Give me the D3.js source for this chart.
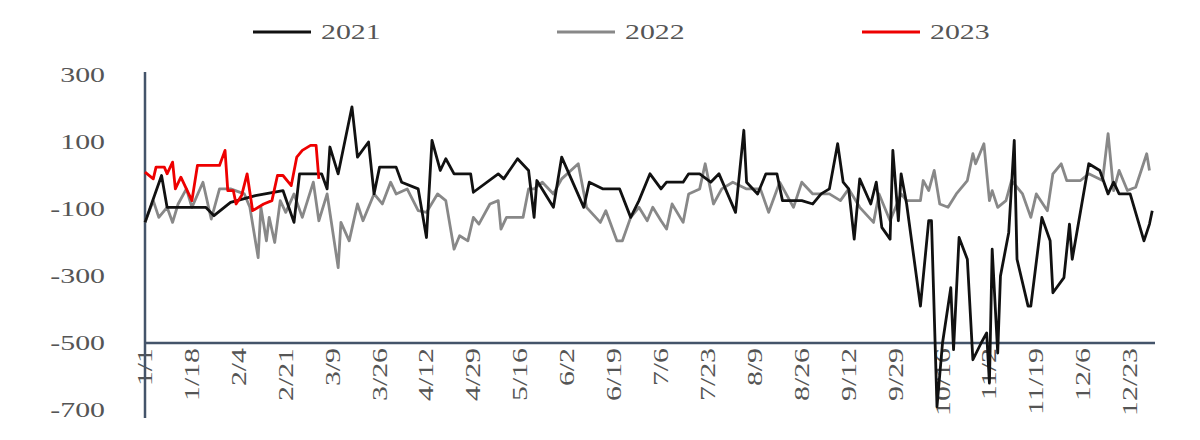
<!DOCTYPE html>
<html><head><meta charset="utf-8">
<script src="https://cdn.jsdelivr.net/npm/d3@7"></script>
<style>body{margin:0;background:#fff}</style>
</head><body><svg id="chart" width="1200" height="440"></svg>
<script>
// [day of year, value]
var s2021 = [[0,-140],[6,0],[8,-95],[22,-95],[25,-120],[31,-80],[40,-60],[50,-45],[54,-140],[56,5],[64,5],[66,-40],[67,85],[70,5],[75,205],[77,55],[81,100],[83,-55],[85,25],[91,25],[93,-20],[99,-40],[102,-185],[104,105],[107,15],[109,50],[112,5],[118,5],[119,-50],[128,5],[130,-10],[135,50],[139,15],[141,-125],[142,-15],[148,-95],[151,55],[159,-95],[161,-20],[166,-40],[172,-40],[176,-125],[179,-75],[183,5],[187,-40],[189,-20],[195,-20],[197,5],[201,5],[205,-20],[208,5],[214,-110],[217,135],[218,-20],[222,-55],[225,5],[229,5],[231,-75],[238,-75],[242,-85],[245,-55],[248,-40],[251,95],[253,-20],[255,-40],[257,-190],[259,-10],[263,-85],[265,-20],[267,-155],[270,-190],[271,75],[273,-135],[274,5],[276,-85],[281,-390],[284,-135],[285,-135],[287,-690],[289,-500],[292,-335],[293,-520],[295,-185],[298,-250],[300,-550],[303,-500],[305,-470],[306,-620],[307,-220],[309,-530],[310,-300],[313,-170],[315,105],[316,-250],[320,-390],[321,-390],[325,-125],[328,-195],[329,-350],[333,-305],[335,-145],[336,-250],[342,35],[346,15],[349,-55],[351,-20],[353,-55],[357,-55],[362,-195],[364,-145],[365,-105]];
var s2022 = [[0,-140],[3,-75],[5,-125],[8,-95],[10,-140],[12,-85],[15,-40],[17,-95],[21,-20],[24,-130],[27,-40],[31,-40],[36,-55],[38,-95],[41,-245],[42,-95],[44,-195],[45,-125],[47,-200],[49,-75],[51,-110],[54,-55],[57,-125],[61,-20],[63,-135],[66,-55],[70,-275],[71,-140],[74,-195],[77,-85],[79,-135],[83,-55],[86,-85],[89,-20],[91,-55],[95,-40],[99,-105],[102,-110],[106,-55],[109,-75],[112,-220],[114,-180],[117,-195],[119,-125],[121,-145],[125,-85],[128,-75],[129,-160],[131,-125],[137,-125],[139,-40],[141,-40],[144,-20],[148,-55],[151,-10],[157,35],[160,-95],[165,-140],[167,-105],[171,-195],[173,-195],[176,-125],[179,-95],[182,-135],[184,-95],[187,-135],[189,-160],[191,-85],[195,-140],[197,-55],[201,-40],[203,35],[206,-85],[209,-40],[213,-20],[218,-40],[223,-40],[226,-110],[230,-20],[235,-95],[238,-20],[242,-55],[248,-55],[252,-75],[255,-40],[259,-95],[264,-140],[266,-55],[270,-135],[274,-55],[276,-75],[281,-75],[282,-15],[284,-45],[286,15],[288,-85],[291,-95],[294,-55],[298,-15],[300,65],[301,35],[304,95],[306,-75],[307,-45],[309,-95],[312,-75],[314,-15],[318,-55],[321,-125],[323,-55],[327,-105],[329,5],[332,35],[334,-15],[339,-15],[342,5],[347,-15],[349,125],[351,-45],[353,15],[356,-45],[359,-35],[363,65],[364,15]];
var s2023 = [[0,10],[3,-10],[4,25],[7,25],[8,5],[10,40],[11,-40],[13,-5],[17,-75],[19,30],[27,30],[29,75],[30,-45],[32,-45],[33,-85],[35,-60],[37,5],[39,-105],[43,-85],[46,-75],[48,0],[50,0],[53,-30],[55,55],[57,75],[60,90],[62,90],[63,-10]];
var tickLabels = ["1/1","1/18","2/4","2/21","3/9","3/26","4/12","4/29","5/16","6/2","6/19","7/6","7/23","8/9","8/26","9/12","9/29","10/16","11/2","11/19","12/6","12/23"];
var yTicks = [300,100,-100,-300,-500,-700];
var seriesNames = ["2021","2022","2023"];
var seriesColors = ["#111111","#888888","#ee0000"];

var svg = d3.select("#chart");
var font = "'Liberation Serif','DejaVu Serif',serif";
var x = d3.scaleLinear().domain([0,366]).range([145,1155]);
var y = d3.scaleLinear().domain([-700,300]).range([410,75]);

// stretch text horizontally like the source image
function stretch(sel){
  sel.each(function(){
    var w = this.getComputedTextLength();
    d3.select(this).attr("textLength",w*1.42).attr("lengthAdjust","spacingAndGlyphs");
  });
}

// y labels
svg.selectAll("text.ylab").data(yTicks).enter().append("text")
  .attr("x",105).attr("y",function(d){return y(d);}).attr("dy","0.35em")
  .attr("text-anchor","end").attr("font-family",font).attr("font-size",21)
  .attr("fill","#555").text(function(d){return d;}).call(stretch);

// x labels, rotated
svg.selectAll("text.xlab").data(tickLabels).enter().append("text")
  .attr("transform",function(d,i){return "translate("+(x(i*17)+7)+",348) rotate(-90)";})
  .attr("text-anchor","end").attr("font-family",font).attr("font-size",21)
  .attr("fill","#555").text(function(d){return d;}).call(stretch);

// axes
svg.append("line").attr("x1",145).attr("x2",145).attr("y1",72).attr("y2",418)
  .attr("stroke","#44546a").attr("stroke-width",2.5);
svg.append("line").attr("x1",145).attr("x2",1155).attr("y1",y(-500)).attr("y2",y(-500))
  .attr("stroke","#44546a").attr("stroke-width",2.5);

var line = d3.line().x(function(d){return x(d[0]);}).y(function(d){return y(d[1]);});
[s2022,s2021,s2023].forEach(function(s,k){
  var idx = [1,0,2][k];
  svg.append("path").datum(s).attr("d",line).attr("fill","none")
    .attr("stroke",seriesColors[idx]).attr("stroke-width",2.8).attr("stroke-linejoin","round");
});

// legend
var lx = [253,557,862];
seriesNames.forEach(function(n,i){
  svg.append("line").attr("x1",lx[i]).attr("x2",lx[i]+58).attr("y1",32).attr("y2",32)
    .attr("stroke",seriesColors[i]).attr("stroke-width",3);
  svg.append("text").attr("x",lx[i]+68).attr("y",32).attr("dy","0.35em")
    .attr("font-family",font).attr("font-size",21).attr("fill","#555").text(n).call(stretch);
});
</script></body></html>
